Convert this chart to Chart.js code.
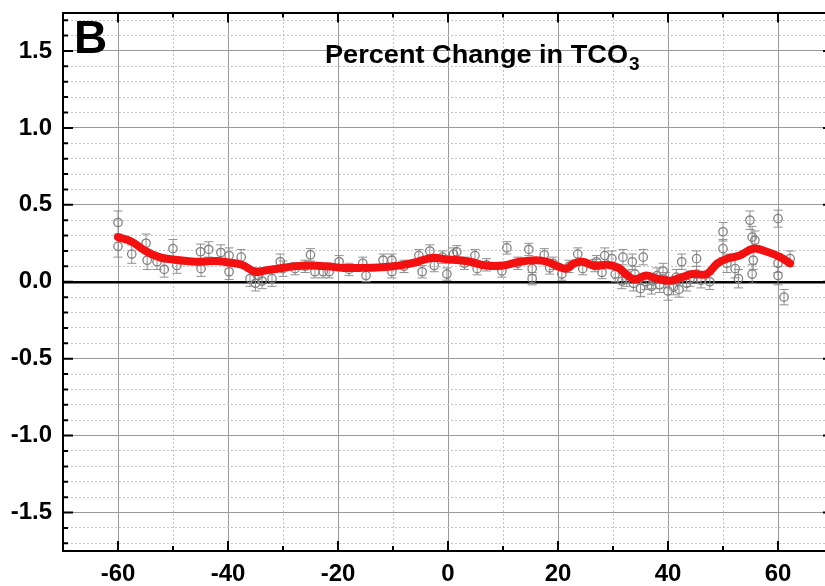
<!DOCTYPE html>
<html><head><meta charset="utf-8">
<script src="https://cdn.jsdelivr.net/npm/chart.js@4.4.1/dist/chart.umd.min.js"></script>
<style>
html,body{margin:0;padding:0;overflow:hidden;background:#fff;width:825px;height:586px}
#wrap{position:absolute;left:0;top:0;width:845px;height:586px}
</style>
</head><body><div id="wrap"><canvas id="c" width="845" height="586"></canvas></div>
<script>
// ---- tick arrays ----
const xTicks = [-60, -40, -20, 0, 20, 40, 60];
const xTickLabels = ['-60', '-40', '-20', '0', '20', '40', '60'];
const xMinor = [-50, -30, -10, 10, 30, 50];
const yTicks = [-1.5, -1.0, -0.5, 0, 0.5, 1.0, 1.5];
const yTickLabels = ['-1.5', '-1.0', '-0.5', '0.0', '0.5', '1.0', '1.5'];
const yMinor = [-1.7, -1.6, -1.4, -1.3, -1.2, -1.1, -0.9, -0.8, -0.7, -0.6, -0.4, -0.3, -0.2, -0.1,
                0.1, 0.2, 0.3, 0.4, 0.6, 0.7, 0.8, 0.9, 1.1, 1.2, 1.3, 1.4, 1.6, 1.7];

// ---- observed points (latitude, percent change, error) ----
const obsLat = [-60, -60, -57.5, -54.9, -54.7, -52.9, -51.6, -50, -49.3, -45, -44.9, -43.5, -41.3, -39.8, -39.8,
  -37.6, -36, -35, -34.5, -33.8, -32, -30.5, -30, -27.8, -26, -25, -24.2, -22.7, -21.6, -19.8, -18,
  -15.5, -14.9, -11.8, -10.2, -10.2, -8, -5.3, -4.7, -3.3, -2.5, -1, -0.2, 1, 1.6, 3, 4.9, 5.3, 7,
  9.8, 10.7, 12.7, 14.7, 15.3, 15.3, 17.5, 18.5, 19.1, 20.7, 22, 23.6, 24.5, 26.7, 27, 28, 28.5, 29.8,
  30.4, 31.6, 31.8, 32.5, 33.5, 33.7, 34, 35, 35.5, 36, 37, 37.3, 38, 38.5, 39.1, 39.5, 40, 41, 41.5,
  42, 42.5, 43.4, 44, 45.2, 45.2, 46, 47.6, 50, 50, 50.7, 52.2, 52.8, 54.9, 55.3, 55.3, 55.5, 55.8,
  60, 60, 60, 61.1, 62.2];
const obsVal = [0.385, 0.23, 0.18, 0.25, 0.14, 0.13, 0.08, 0.215, 0.105, 0.195, 0.085, 0.21, 0.19, 0.17, 0.065,
  0.16, 0.02, -0.01, 0.04, 0.005, 0.02, 0.13, 0.085, 0.085, 0.1, 0.175, 0.065, 0.065, 0.065, 0.13, 0.08,
  0.12, 0.04, 0.14, 0.14, 0.065, 0.1, 0.17, 0.065, 0.2, 0.105, 0.16, 0.05, 0.18, 0.195, 0.12, 0.17, 0.085, 0.11,
  0.07, 0.22, 0.12, 0.21, 0.085, 0.02, 0.175, 0.09, 0.12, 0.05, 0.1, 0.18, 0.085, 0.105, 0.13, 0.06, 0.17, 0.15,
  0.05, 0.005, 0.16, 0.02, 0.13, -0.01, 0.05, -0.045, 0.16, 0.0, -0.03, 0.005, 0.04, -0.02, 0.07, 0.01, -0.06, -0.035, 0.03,
  -0.05, 0.13, -0.01, 0.02, 0.15, 0.05, 0.01, 0.0, 0.325, 0.215, 0.12, 0.085, 0.02, 0.4, 0.29, 0.05, 0.14, 0.27,
  0.41, 0.12, 0.04, -0.1, 0.15];
const obsErr = [0.075, 0.07, 0.06, 0.06, 0.06, 0.05, 0.05, 0.06, 0.05, 0.05, 0.05, 0.05, 0.05, 0.05, 0.05,
  0.05, 0.05, 0.05, 0.05, 0.05, 0.05, 0.05, 0.05, 0.04, 0.04, 0.04, 0.04, 0.04, 0.04, 0.04, 0.04,
  0.04, 0.04, 0.04, 0.04, 0.04, 0.04, 0.04, 0.04, 0.04, 0.04, 0.04, 0.04, 0.04, 0.04, 0.04, 0.04, 0.04, 0.04,
  0.04, 0.04, 0.04, 0.04, 0.04, 0.04, 0.04, 0.04, 0.04, 0.04, 0.04, 0.04, 0.04, 0.04, 0.04, 0.04, 0.05, 0.05,
  0.05, 0.05, 0.05, 0.05, 0.05, 0.05, 0.05, 0.05, 0.05, 0.05, 0.05, 0.05, 0.05, 0.05, 0.05, 0.05, 0.06, 0.05, 0.05,
  0.05, 0.05, 0.05, 0.05, 0.05, 0.05, 0.05, 0.05, 0.06, 0.06, 0.06, 0.06, 0.06, 0.06, 0.07, 0.06, 0.06, 0.06,
  0.055, 0.06, 0.06, 0.05, 0.05];

// ---- smoothed (red) curve ----
const fitLat = [-60, -57.5, -55, -52.5, -50, -47.5, -45, -42, -40, -37.5, -35, -33, -31, -28, -25, -22, -19, -16,
  -12, -9, -6, -3, 0, 2, 4, 7, 10, 13, 16, 18, 20, 21.5, 23, 24.5, 26.5, 29, 31, 32.5, 34, 36, 38, 40.5,
  42.5, 44.5, 47, 49, 50.7, 53, 55.5, 58, 60.4, 62.2];
const fitVal = [0.29, 0.26, 0.2, 0.16, 0.145, 0.135, 0.13, 0.135, 0.125, 0.11, 0.065, 0.075, 0.085, 0.1, 0.105, 0.1, 0.09, 0.09,
  0.095, 0.105, 0.125, 0.155, 0.145, 0.14, 0.13, 0.105, 0.105, 0.13, 0.14, 0.13, 0.1, 0.085, 0.12, 0.13, 0.105, 0.11, 0.09, 0.045, 0.015, 0.04, 0.02, 0.007,
  0.03, 0.05, 0.05, 0.12, 0.15, 0.17, 0.215, 0.195, 0.16, 0.12];

const obsData = obsLat.map((v, i) => ({x: v, y: obsVal[i]}));
const fitData = fitLat.map((v, i) => ({x: v, y: fitVal[i]}));

const FONT = '"Liberation Sans", Arial, sans-serif';

const errorBars = {
  id: 'errorBars',
  beforeDatasetsDraw(chart) {
    const {ctx, chartArea: a, scales: {x, y}} = chart;
    ctx.save();
    ctx.beginPath(); ctx.rect(a.left, a.top, a.right - a.left, a.bottom - a.top); ctx.clip();
    ctx.strokeStyle = '#909090'; ctx.lineWidth = 1;
    ctx.beginPath();
    for (let i = 0; i < obsLat.length; i++) {
      const px = x.getPixelForValue(obsLat[i]);
      const y1 = y.getPixelForValue(obsVal[i] + obsErr[i]);
      const y2 = y.getPixelForValue(obsVal[i] - obsErr[i]);
      ctx.moveTo(px, y1); ctx.lineTo(px, y2);
      ctx.moveTo(px - 4.5, y1); ctx.lineTo(px + 4.5, y1);
      ctx.moveTo(px - 4.5, y2); ctx.lineTo(px + 4.5, y2);
    }
    ctx.stroke();
    ctx.restore();
  }
};

const decor = {
  id: 'decor',
  afterDraw(chart) {
    const {ctx, chartArea: a, scales: {x, y}} = chart;
    ctx.save();
    ctx.strokeStyle = '#000'; ctx.lineWidth = 2;
    ctx.beginPath();
    xTicks.forEach(v => { const p = x.getPixelForValue(v);
      ctx.moveTo(p, a.bottom); ctx.lineTo(p, a.bottom - 10);
      ctx.moveTo(p, a.top); ctx.lineTo(p, a.top + 10); });
    xMinor.forEach(v => { const p = x.getPixelForValue(v);
      ctx.moveTo(p, a.bottom); ctx.lineTo(p, a.bottom - 5);
      ctx.moveTo(p, a.top); ctx.lineTo(p, a.top + 5); });
    yTicks.forEach(v => { const p = y.getPixelForValue(v);
      ctx.moveTo(a.left, p); ctx.lineTo(a.left + 10, p);
      ctx.moveTo(a.right, p); ctx.lineTo(a.right - 10, p); });
    yMinor.forEach(v => { const p = y.getPixelForValue(v);
      ctx.moveTo(a.left, p); ctx.lineTo(a.left + 5, p);
      ctx.moveTo(a.right, p); ctx.lineTo(a.right - 5, p); });
    ctx.stroke();
    // panel letter
    ctx.fillStyle = '#000';
    ctx.textBaseline = 'alphabetic';
    ctx.textAlign = 'left';
    ctx.font = 'bold 46px ' + FONT;
    ctx.fillText('B', 74, 53);
    // title with subscript
    ctx.font = 'bold 25px ' + FONT;
    const main = 'Percent Change in TCO';
    const w = ctx.measureText(main).width;
    const sx = 303 / w;
    ctx.save();
    ctx.translate(325, 63);
    ctx.scale(sx, 1);
    ctx.fillText(main, 0, 0);
    ctx.restore();
    ctx.font = 'bold 19px ' + FONT;
    ctx.fillText('3', 325 + 303 + 1, 70);
    ctx.restore();
  }
};

function noPad(s) { s.paddingTop = 0; s.paddingBottom = 0; s.paddingLeft = 0; s.paddingRight = 0; }

new Chart(document.getElementById('c'), {
  data: {
    datasets: [
      {type: 'line', data: fitData, borderColor: '#f21010', borderWidth: 8, pointRadius: 0, tension: 0.4,
       fill: false, borderCapStyle: 'round', borderJoinStyle: 'round'},
      {type: 'scatter', data: obsData, pointRadius: 4.2, pointBorderColor: '#808080', pointBorderWidth: 1.3,
       pointBackgroundColor: 'rgba(255,255,255,0)'}
    ]
  },
  options: {
    responsive: false,
    animation: false,
    devicePixelRatio: 1,
    layout: {padding: {left: 0, top: 12.5, right: 12, bottom: 0}},
    plugins: {legend: {display: false}, tooltip: {enabled: false}, title: {display: false}},
    scales: {
      x: {
        type: 'linear', position: 'bottom', min: -70, max: 70,
        afterBuildTicks: s => { s.ticks = xTicks.map(v => ({value: v})); },
        afterFit: s => { s.height = 35; noPad(s); },
        ticks: {callback: (v) => xTickLabels[xTicks.indexOf(v)], color: '#000', maxRotation: 0, minRotation: 0,
                padding: 9, font: {family: FONT, size: 24, weight: 'bold'}},
        grid: {color: '#9a9a9a', lineWidth: 1, drawTicks: false},
        border: {color: '#000', width: 2}
      },
      x2: {
        type: 'linear', position: 'top', min: -70, max: 70,
        afterBuildTicks: s => { s.ticks = xMinor.map(v => ({value: v})); },
        afterFit: s => { s.height = 0; noPad(s); },
        ticks: {display: false},
        grid: {color: '#c4c4c4', lineWidth: 1, drawTicks: false},
        border: {color: '#000', width: 2, dash: [2, 2]}
      },
      y: {
        type: 'linear', position: 'left', min: -1.75, max: 1.75,
        afterBuildTicks: s => { s.ticks = yTicks.map(v => ({value: v})); },
        afterFit: s => { s.width = 63; noPad(s); },
        ticks: {callback: (v) => yTickLabels[yTicks.indexOf(v)], color: '#000', padding: 11,
                font: {family: FONT, size: 24, weight: 'bold'}},
        grid: {
          color: c => (c.tick && c.tick.value === 0) ? '#000' : '#9a9a9a',
          lineWidth: c => (c.tick && c.tick.value === 0) ? 2.5 : 1,
          drawTicks: false
        },
        border: {color: '#000', width: 2}
      },
      y2: {
        type: 'linear', position: 'right', min: -1.75, max: 1.75,
        afterBuildTicks: s => { s.ticks = yMinor.map(v => ({value: v})); },
        afterFit: s => { s.width = 0; noPad(s); },
        ticks: {display: false},
        grid: {color: '#c4c4c4', lineWidth: 1, drawTicks: false},
        border: {color: '#000', width: 2, dash: [2, 2]}
      }
    }
  },
  plugins: [errorBars, decor]
});
</script>
</body></html>
